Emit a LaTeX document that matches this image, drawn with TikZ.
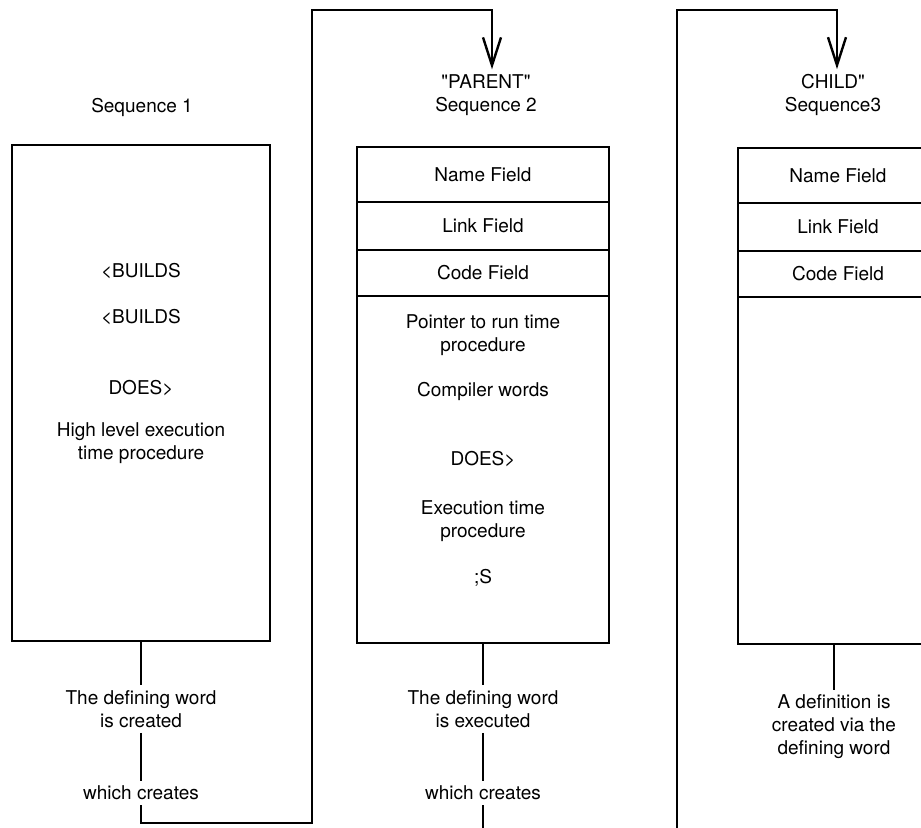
\documentclass[tikz,border=0pt]{standalone}
\usepackage{fontspec}
\setmainfont{TeX Gyre Heros}
\usetikzlibrary{positioning, arrows.meta}

\begin{document}
\begin{tikzpicture}[
        % one unit is one pixel of the scan, y pointing down
        x=0.5pt, y=-0.5pt,
        % thick lines and open V heads as in the original
        line width=1.2pt,
        >={Straight Barb[length=14pt,width=9pt]},
        font=\fontsize{9.5}{11.5}\selectfont,
        % the big blocks of each sequence
        seqbox/.style={draw, rectangle, minimum height=248pt, inner sep=0pt, outer sep=0pt},
        % header fields stacked on top of a block
        field/.style={draw, rectangle, minimum height=24pt, inner sep=0pt, outer sep=0pt},
        txt/.style={align=center, inner sep=2pt}
    ]
        \path[use as bounding box, clip] (0,0) rectangle (921,828);

        % Sequence 1
        \node[txt] (title1) at (142,107) {Sequence 1};
        \node[seqbox, minimum width=129pt] (seq1) at (141,393) {};
        \node[txt] (builds1) at (141,271) {<BUILDS};
        \node[txt] (builds2) at (141,317) {<BUILDS};
        \node[txt] (does1) at (141,388) {DOES>};
        \node[txt] (high1) at (141,443) {High level execution\\time procedure};

        % Sequence 2, the parent
        \node[txt] (title2) at (486,95) {\textquotedbl PARENT\textquotedbl\\Sequence 2};
        \node[seqbox, minimum width=126pt] (seq2) at (483,395) {};
        \node[field, minimum width=126pt, minimum height=27.5pt, anchor=north] (name2) at (seq2.north) {Name Field};
        \node[field, minimum width=126pt, below=0pt of name2] (link2) {Link Field};
        \node[field, minimum width=126pt, minimum height=23pt, below=0pt of link2] (code2) {Code Field};
        \node[txt] (ptr2) at (483,335) {Pointer to run time\\procedure};
        \node[txt] (comp2) at (483,391) {Compiler words};
        \node[txt] (does2) at (483,459) {DOES>};
        \node[txt] (exec2) at (483,521) {Execution time\\procedure};
        \node[txt] (semis2) at (483,578) {;S};

        % Sequence 3, the child (cut by the right margin)
        \node[txt] (title3) at (833,95) {CHILD\textquotedbl\\Sequence3};
        \node[seqbox, minimum width=100pt] (seq3) at (838,396) {};
        \node[field, minimum width=100pt, minimum height=27.5pt, anchor=north] (name3) at (seq3.north) {Name Field};
        \node[field, minimum width=100pt, below=0pt of name3] (link3) {Link Field};
        \node[field, minimum width=100pt, minimum height=23pt, below=0pt of link3] (code3) {Code Field};

        % Notes under the blocks
        \node[txt] (def1) at (141,709) {The defining word\\is created};
        \node[txt] (which1) at (141,793) {which creates};
        \node[txt] (def2) at (483,709) {The defining word\\is executed};
        \node[txt] (which2) at (483,793) {which creates};
        \node[txt] (def3) at (834,727) {A definition is\\created via the\\defining word};

        % Connectors
        \draw (seq1.south -| def1.north) -- (def1.north);
        \draw (def1.south) -- (which1.north);
        \coordinate (bot1) at (312,823);
        \coordinate (top1) at (312,10);
        \draw[->] (which1.south) |- (bot1) -- (top1) -| ([xshift=3pt]title2.north);

        \draw (seq2.south) -- (def2.north);
        \draw (def2.south) -- (which2.north);
        \coordinate (bot2) at (677,831);
        \coordinate (top2) at (677,10);
        \draw[->] (which2.south) |- (bot2) -- (top2) -| ([xshift=2pt]title3.north);

        \draw (seq3.south -| def3.north) -- (def3.north);

    \end{tikzpicture}
\end{document}
